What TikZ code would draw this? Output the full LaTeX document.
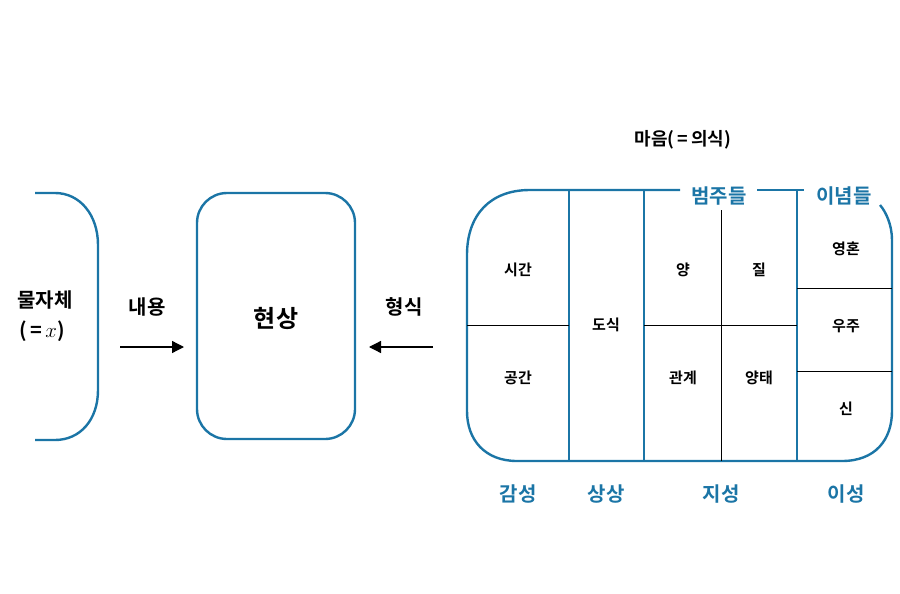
\documentclass[tikz,border=0pt]{standalone}
\usepackage{fontspec}
\setmainfont{Noto Sans CJK KR}[BoldFont={Noto Sans CJK KR Bold}]
\usetikzlibrary{arrows.meta}
\definecolor{kb}{HTML}{1B75A6}
\begin{document}
\begin{tikzpicture}[x=1pt,y=-1pt,
  blue line/.style={draw=kb,line width=2.4pt},
  thin/.style={draw=black,line width=1pt},
  t/.style={font=\bfseries\fontsize{15}{17}\selectfont,inner sep=1pt},
  big/.style={font=\bfseries\fontsize{20}{22}\selectfont,inner sep=1pt},
  bt/.style={font=\bfseries\fontsize{20}{22}\selectfont,text=kb,inner sep=1pt},
  arr/.style={draw=black,line width=1.3pt,-{Triangle[length=12pt,width=12pt]}}]
\useasboundingbox (0,0) rectangle (900,594);
% left bracket
\draw[blue line] (35,193) -- (55,193) .. controls (80,193) and (98,215) .. (98,245) -- (98,390) .. controls (98,420) and (80,440) .. (55,440) -- (35,440);
% phenomenon box
\draw[blue line,rounded corners=30pt] (197,193) rectangle (355,439);
% big box
\draw[blue line] (680,190) -- (530,190) .. controls (490,190) and (467,215) .. (467,255) -- (467,411) .. controls (467,440) and (485,461) .. (517,461) -- (842,461) .. controls (875,461) and (892,440) .. (892,411) -- (892,240) .. controls (892,225) and (886,212) .. (880,205);
\draw[blue line] (757,190) -- (804,190);
\draw[blue line] (569,190) -- (569,461);
\draw[blue line] (644,190) -- (644,461);
\draw[blue line] (797,190) -- (797,461);
\draw[thin] (721,210) -- (721,461);
\draw[thin] (467,325) -- (569,325);
\draw[thin] (644,325) -- (797,325);
\draw[thin] (797,288) -- (892,288);
\draw[thin] (797,371) -- (892,371);
% texts
\node[big] (mw) at (45,300) {물자체};
\node[big] (mx) at (42,331) {(\,=\,$x$)};
\node[big] (ny) at (147,307) {내용};
\node[big] (hs) at (404,307) {형식};
\node[big,font=\bfseries\fontsize{24}{26}\selectfont] (hy) at (276,318) {현상};
\node[t,font=\bfseries\fontsize{18}{20}\selectfont] (ma) at (683,140) {마음(\,=\,의식)};
\coordinate (a1) at (120,347); \coordinate (a2) at (184,347);
\coordinate (b1) at (433,347); \coordinate (b2) at (369,347);
\draw[arr] (a1) -- (a2);
\draw[arr] (b1) -- (b2);
\node[bt] (bj) at (719,196) {범주들};
\node[bt] (in) at (844,196) {이념들};
\node[t] (c1) at (518,270) {시간};
\node[t] (c2) at (518,378) {공간};
\node[t] (c3) at (606,325) {도식};
\node[t] (c4) at (683,270) {양};
\node[t] (c5) at (759,270) {질};
\node[t] (c6) at (683,378) {관계};
\node[t] (c7) at (759,378) {양태};
\node[t] (c8) at (846,249) {영혼};
\node[t] (c9) at (846,326) {우주};
\node[t] (c10) at (846,409) {신};
\node[bt] (l1) at (518,494) {감성};
\node[bt] (l2) at (606,494) {상상};
\node[bt] (l3) at (721,494) {지성};
\node[bt] (l4) at (846,494) {이성};
\end{tikzpicture}
\end{document}
